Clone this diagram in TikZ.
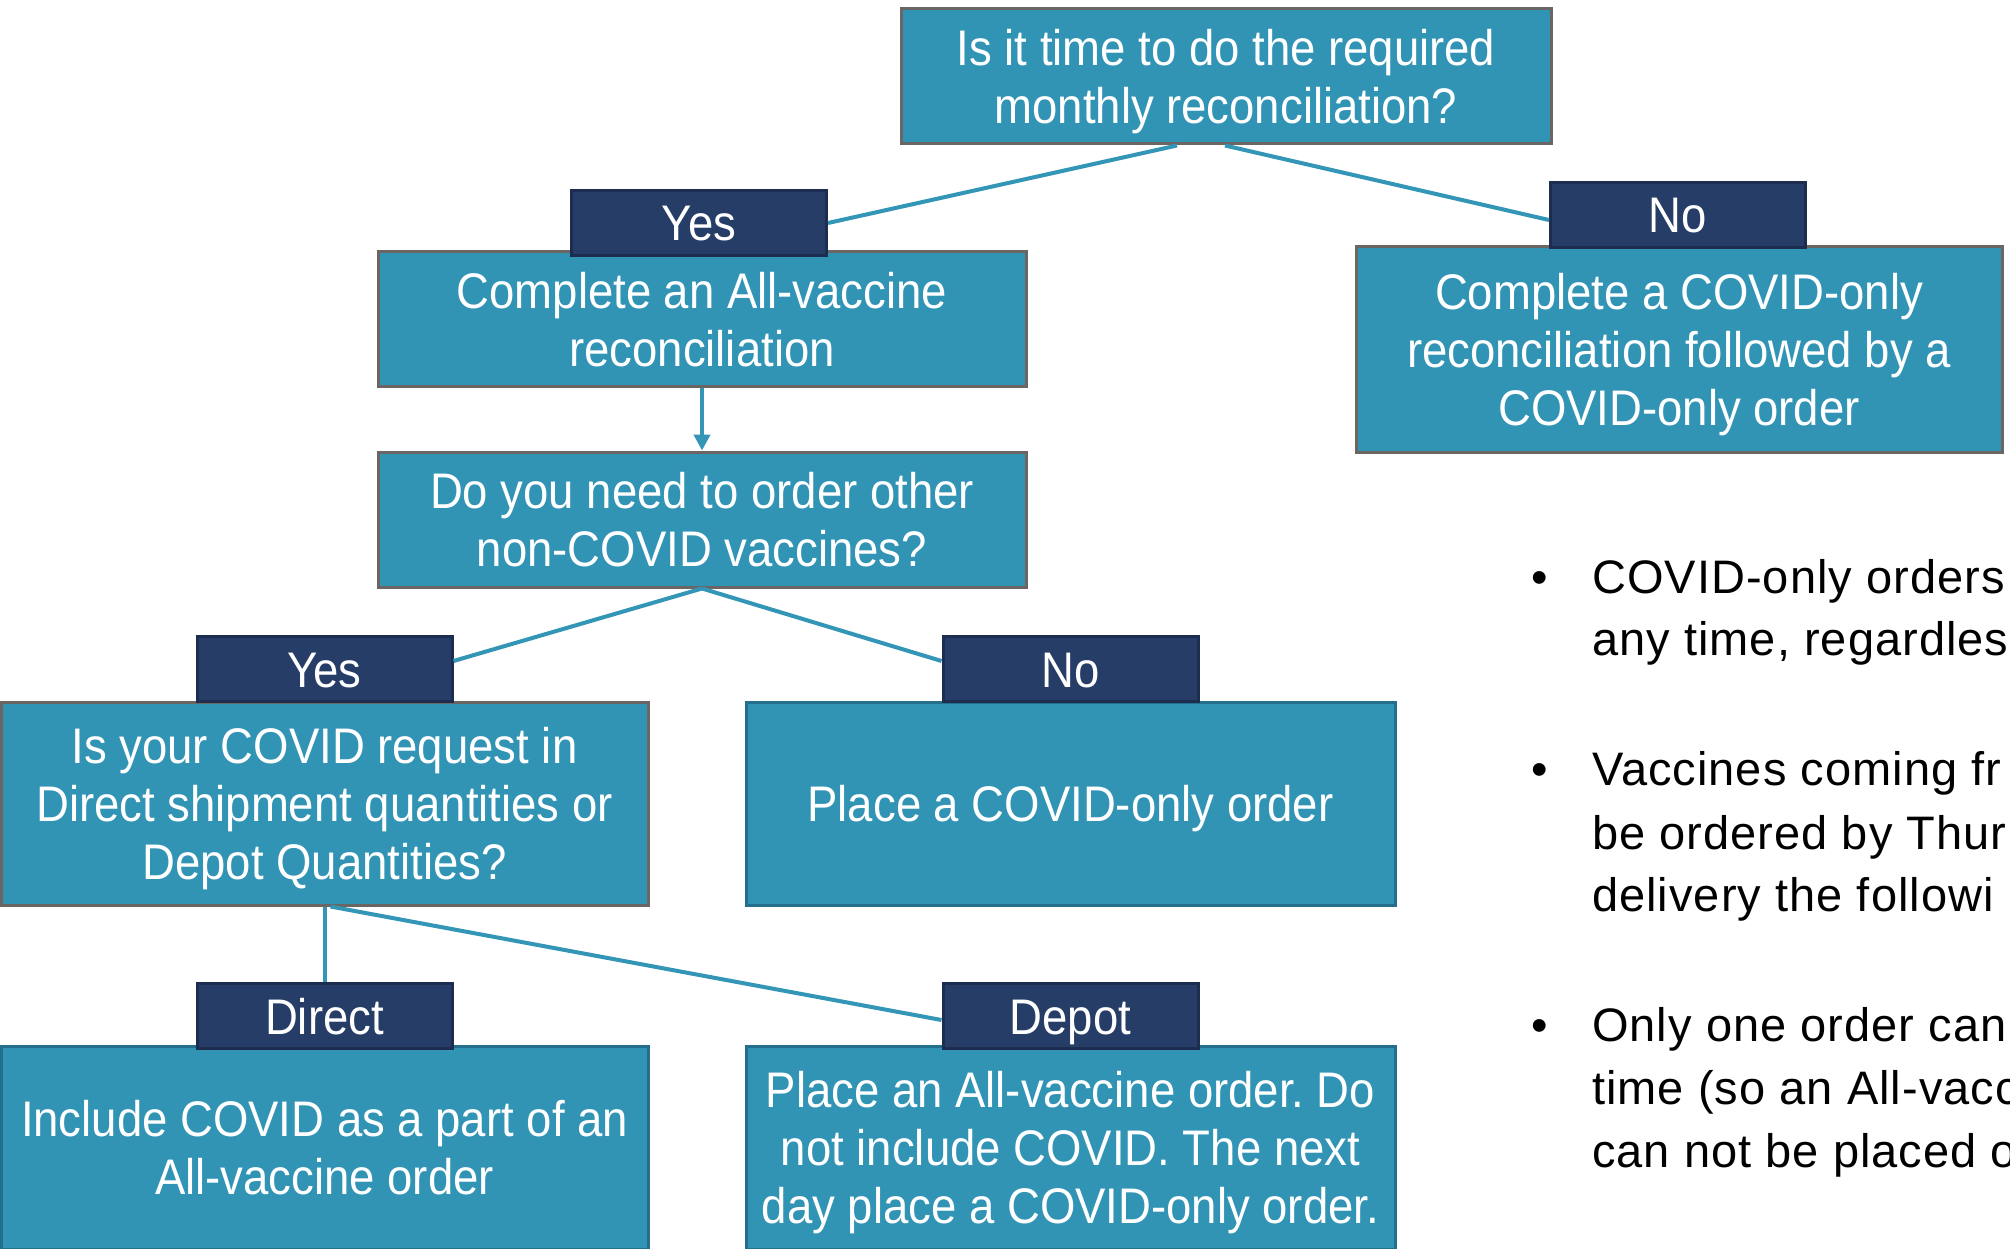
\documentclass[tikz,border=0pt]{standalone}
\usepackage{fontspec}
\setmainfont{Liberation Sans}
\newfontfamily\boxfont{Liberation Sans}[FakeStretch=0.91]
\newfontfamily\bulfont{Liberation Sans}[LetterSpace=2.2]
\usetikzlibrary{arrows.meta}
\frenchspacing
\definecolor{boxteal}{HTML}{3294B5}
\definecolor{labnavy}{HTML}{263D68}
\definecolor{labbd}{HTML}{1C2D50}
\definecolor{graybd}{HTML}{6B6663}
\definecolor{tealbd}{HTML}{24708C}
\definecolor{linkteal}{HTML}{3396B7}
\newcommand{\topstrut}{\rule{0pt}{47pt}}
\newcommand{\botstrut}{\rule[-11pt]{0pt}{0pt}}
\tikzset{
  box/.style={draw=graybd, line width=3pt, fill=boxteal, text=white, align=center,
    font=\boxfont\fontsize{50}{58}\selectfont, inner sep=0pt},
  tbox/.style={box, draw=tealbd},
  lab/.style={draw=labbd, line width=3pt, fill=labnavy, text=white, align=center,
    font=\boxfont\fontsize{50}{58}\selectfont, inner sep=0pt,
    minimum width=255pt, minimum height=65pt},
  link/.style={draw=linkteal, line width=4pt},
  bul/.style={anchor=base west, inner sep=0pt, font=\bulfont\fontsize{47}{62}\selectfont, text=black},
  dot/.style={anchor=base, inner sep=0pt, font=\bulfont\fontsize{47}{62}\selectfont, text=black}
}
\begin{document}
\begin{tikzpicture}[x=1pt,y=-1pt]
\useasboundingbox (0,0) rectangle (2010,1249);
\fill[white] (0,0) rectangle (2010,1249);

% boxes
\node[box, minimum width=650pt, minimum height=135pt] (top) at (1226,76.5)
  {\topstrut Is it time to do the required\\monthly reconciliation?\botstrut};
\node[box, minimum width=648pt, minimum height=134pt] (allvac) at (702,319)
  {\topstrut Complete an All-vaccine\\reconciliation\botstrut};
\node[box, minimum width=646pt, minimum height=205pt] (covonly) at (1679,349.5)
  {\topstrut Complete a COVID-only\\reconciliation followed by a\\COVID-only order\botstrut};
\node[box, minimum width=648pt, minimum height=135pt] (doyou) at (702,519.5)
  {\topstrut Do you need to order other\\non-COVID vaccines?\botstrut};
\node[box, minimum width=647pt, minimum height=203pt] (isyour) at (324.5,803.5)
  {\topstrut Is your COVID request in\\Direct shipment quantities or\\Depot Quantities?\botstrut};
\node[tbox, minimum width=649pt, minimum height=203pt] (place1) at (1070.5,803.5)
  {\topstrut Place a COVID-only order\botstrut};
\node[tbox, minimum width=647pt, minimum height=203pt] (include) at (324.5,1147.5)
  {\topstrut Include COVID as a part of an\\All-vaccine order\botstrut};
\node[tbox, minimum width=649pt, minimum height=203pt] (place2) at (1070.5,1147.5)
  {\topstrut Place an All-vaccine order. Do\\not include COVID. The next\\day place a COVID-only order.\botstrut};

% labels
\node[lab] (yes1) at (699,223) {\topstrut Yes\botstrut};
\node[lab] (no1) at (1678,215) {\topstrut No\botstrut};
\node[lab] (yes2) at (324.5,669) {\topstrut Yes\botstrut};
\node[lab] (no2) at (1070.5,669) {\topstrut No\botstrut};
\node[lab] (direct) at (324.5,1016) {\topstrut Direct\botstrut};
\node[lab] (depot) at (1070.5,1016) {\topstrut Depot\botstrut};

% connectors
\draw[link] ([xshift=-49pt]top.south) -- (yes1.east);
\draw[link] ([xshift=-1pt]top.south) -- ([yshift=-5pt]no1.west);
\draw[link, -{Triangle[length=16pt,width=16pt]}] (allvac.south) -- (doyou.north);
\draw[link] (doyou.south) -- ([yshift=8pt]yes2.east);
\draw[link] (doyou.south) -- ([yshift=8pt]no2.west);
\draw[link] (isyour.south) -- (direct.north);
\draw[link] ([xshift=6pt]isyour.south) -- ([yshift=-4pt]depot.west);

% bullets
\node[dot] (d1) at (1540,593) {•};
\node[bul] (b1a) at (1592,593) {COVID-only orders m};
\node[bul] (b1b) at (1592,655) {any time, regardless};
\node[dot] (d2) at (1540,785) {•};
\node[bul] (b2a) at (1592,785) {Vaccines coming fr};
\node[bul] (b2b) at (1592,849) {be ordered by Thur};
\node[bul] (b2c) at (1592,911) {delivery the followi};
\node[dot] (d3) at (1540,1041) {•};
\node[bul] (b3a) at (1592,1041) {Only one order can};
\node[bul] (b3b) at (1592,1104) {time (so an All-vacc};
\node[bul] (b3c) at (1592,1167) {can not be placed o};
\end{tikzpicture}
\end{document}
